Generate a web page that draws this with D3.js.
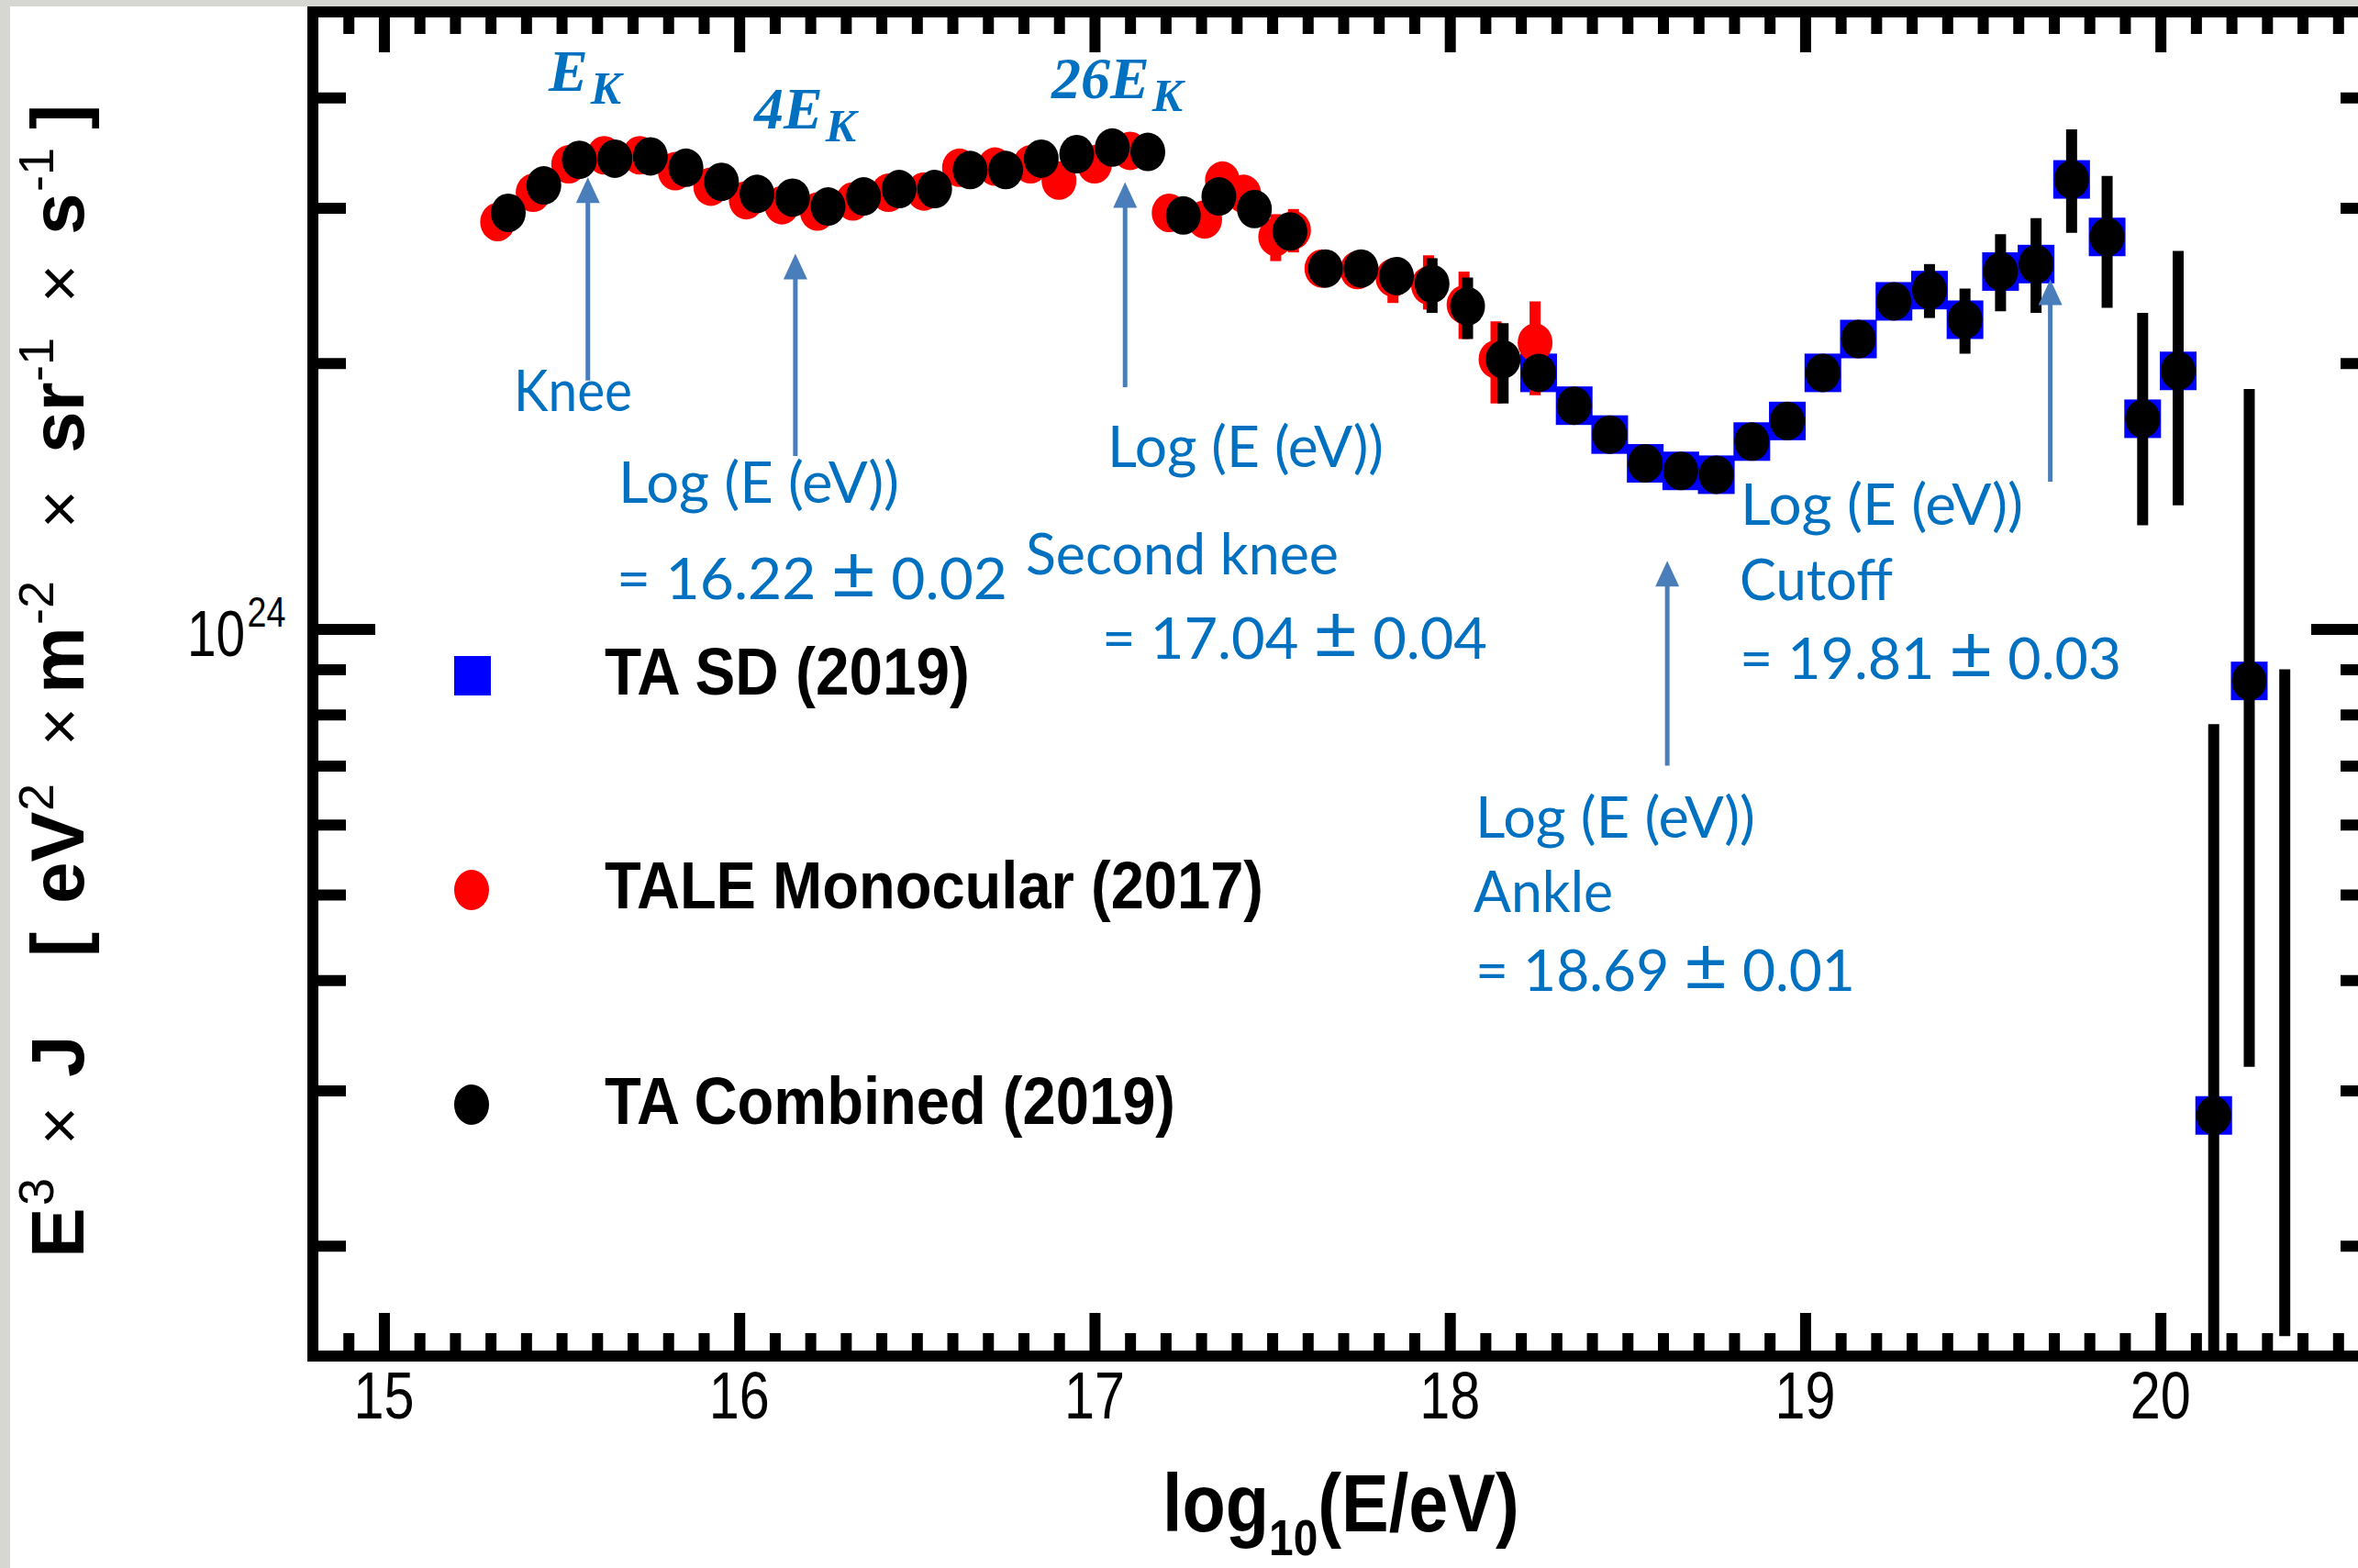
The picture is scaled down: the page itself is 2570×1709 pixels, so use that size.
<!DOCTYPE html>
<html><head><meta charset="utf-8">
<script src="https://cdn.jsdelivr.net/npm/d3@7"></script>
<style>
html,body{margin:0;padding:0;background:#fff;}
svg{display:block}
</style></head><body>
<svg id="chart" width="2570" height="1709"></svg>
<script>
// ---------------- DATA (flux E^3 J in units of 1e24 eV^2 m^-2 sr^-1 s^-1) ----------------
const comboLogE = [15.35,15.45,15.55,15.65,15.75,15.85,15.95,16.05,16.15,16.25,16.35,16.45,16.55,16.65,16.75,16.85,16.95,17.05,17.15,
  17.25,17.35,17.45,17.55,17.65,17.75,17.85,17.95,18.05,18.15,
  18.25,18.35,18.45,18.55,18.65,18.75,18.85,18.95,19.05,19.15,19.25,
  19.35,19.45,19.55,19.65,19.75,19.85,19.95,20.05,20.15,20.25,20.35];
const comboJ = [2.96,3.18,3.40,3.41,3.43,3.33,3.21,3.11,3.08,3.01,3.09,3.15,3.15,3.31,3.31,3.41,3.45,3.51,3.47,
  2.94,3.09,2.99,2.82,2.56,2.56,2.51,2.46,2.32,2.02,
  1.95,1.79,1.66,1.54,1.51,1.495,1.63,1.72,1.95,2.13,2.35,
  2.42,2.24,2.54,2.59,3.23,2.78,1.73,1.96,0.281,0.873,null];
const comboLo = [null,null,null,null,null,null,null,null,null,null,null,null,null,null,null,null,null,null,null,
  null,null,null,null,null,null,null,2.28,2.13,1.80,
  null,null,null,null,null,null,null,null,null,null,null,
  2.25,2.05,2.29,2.28,2.81,2.31,1.31,1.38,0.10,0.319,0.158];
const comboHi = [null,null,null,null,null,null,null,null,null,null,null,null,null,null,null,null,null,null,null,
  null,null,null,null,null,null,null,2.63,2.50,2.22,
  null,null,null,null,null,null,null,null,null,null,null,
  2.59,2.43,2.80,2.92,3.68,3.26,2.28,2.68,0.78,1.87,0.90];

const sdLogE = [18.25,18.35,18.45,18.55,18.65,18.75,18.85,18.95,19.05,19.15,19.25,19.35,19.45,19.55,19.65,19.75,19.85,19.95,20.05,20.15,20.25];
const sdJ = [1.95,1.79,1.66,1.54,1.51,1.495,1.63,1.72,1.95,2.13,2.35,2.42,2.24,2.54,2.59,3.23,2.78,1.73,1.96,0.281,0.873];

const taleLogE = [15.32,15.42,15.52,15.62,15.72,15.82,15.92,16.02,16.12,16.22,16.32,16.42,16.52,16.62,16.72,16.82,16.90,17.00,17.10,
  17.21,17.31,17.36,17.42,17.51,17.56,17.64,17.74,17.84,17.94,18.04,18.13,18.24];
const taleJ = [2.89,3.12,3.36,3.44,3.44,3.30,3.17,3.06,3.02,2.97,3.05,3.12,3.13,3.33,3.34,3.36,3.22,3.36,3.48,
  2.96,2.91,3.22,3.11,2.78,2.83,2.56,2.55,2.50,2.45,2.33,2.02,2.11];
const taleLo = [null,null,null,null,null,null,null,null,null,null,null,null,null,null,null,null,null,null,null,
  null,null,null,null,2.61,2.67,null,null,2.34,2.30,2.13,1.80,1.84];
const taleHi = [null,null,null,null,null,null,null,null,null,null,null,null,null,null,null,null,null,null,null,
  null,null,null,null,2.95,2.99,null,null,2.62,2.65,2.54,2.23,2.35];

const xMajorTicks = [15,16,17,18,19,20];
const xTickLabels = ["15","16","17","18","19","20"];
const xMinorTicks = [14.9,15.1,15.2,15.3,15.4,15.5,15.6,15.7,15.8,15.9,16.1,16.2,16.3,16.4,16.5,16.6,16.7,16.8,16.9,
  17.1,17.2,17.3,17.4,17.5,17.6,17.7,17.8,17.9,18.1,18.2,18.3,18.4,18.5,18.6,18.7,18.8,18.9,
  19.1,19.2,19.3,19.4,19.5,19.6,19.7,19.8,19.9,20.1,20.2,20.3,20.4,20.5];
const yMajorTicks = [1];
const yMinorTicks = [0.2,0.3,0.4,0.5,0.6,0.7,0.8,0.9,2,3,4];

const legendLabels = ["TA SD (2019)","TALE Monocular (2017)","TA Combined (2019)"];

// annotation arrows in data units (log10 E, flux)
const arrowX = [15.574,16.158,17.086,18.612,19.690];
const arrowTop = [3.247,2.661,3.208,1.194,2.488];
const arrowBottom = [1.911,1.570,1.879,0.700,1.468];

const noteTexts = ["Knee","Log (E (eV))","= 16.22 ± 0.02","Log (E (eV))","Second knee","= 17.04 ± 0.04",
  "Log (E (eV))","Ankle","= 18.69 ± 0.01","Log (E (eV))","Cutoff","= 19.81 ± 0.03"];

// ---------------- LAYOUT ----------------
const W = 2570, H = 1709;
const svg = d3.select("#chart");
svg.append("rect").attr("width",W).attr("height",H).attr("fill","#d6d6d2");
svg.append("rect").attr("x",11).attr("y",7).attr("width",W-11).attr("height",H-7).attr("fill","#fff");

const P = {left:341, right:2587, top:13, bottom:1478};
const x = d3.scaleLinear().domain([14.8,20.6]).range([P.left,P.right]);
const y = d3.scaleLog().domain([0.15,5.0]).range([P.bottom,P.top]);

svg.append("clipPath").attr("id","clip").append("rect")
  .attr("x",P.left+6).attr("y",P.top+6).attr("width",P.right-P.left-12).attr("height",P.bottom-P.top-12);

function styleAxis(g){
  g.select(".domain").remove();
  g.selectAll("text").remove();
  g.selectAll("line").attr("stroke","#000").attr("stroke-width",12);
}
svg.append("g").attr("transform",`translate(0,${P.bottom})`).call(d3.axisBottom(x).tickValues(xMinorTicks).tickSize(-25)).call(styleAxis);
svg.append("g").attr("transform",`translate(0,${P.bottom})`).call(d3.axisBottom(x).tickValues(xMajorTicks).tickSize(-47)).call(styleAxis);
svg.append("g").attr("transform",`translate(0,${P.top})`).call(d3.axisTop(x).tickValues(xMinorTicks).tickSize(-24)).call(styleAxis);
svg.append("g").attr("transform",`translate(0,${P.top})`).call(d3.axisTop(x).tickValues(xMajorTicks).tickSize(-44)).call(styleAxis);
svg.append("g").attr("transform",`translate(${P.left},0)`).call(d3.axisLeft(y).tickValues(yMinorTicks).tickSize(-36)).call(styleAxis);
svg.append("g").attr("transform",`translate(${P.left},0)`).call(d3.axisLeft(y).tickValues(yMajorTicks).tickSize(-68)).call(styleAxis);
svg.append("g").attr("transform",`translate(${P.right},0)`).call(d3.axisRight(y).tickValues(yMinorTicks).tickSize(-36)).call(styleAxis);
svg.append("g").attr("transform",`translate(${P.right},0)`).call(d3.axisRight(y).tickValues(yMajorTicks).tickSize(-68)).call(styleAxis);

svg.append("rect").attr("x",P.left).attr("y",P.top).attr("width",P.right-P.left).attr("height",P.bottom-P.top)
  .attr("fill","none").attr("stroke","#000").attr("stroke-width",12);

// tick labels
svg.append("g").selectAll("text").data(xMajorTicks).join("text")
  .attr("x",d=>x(d)).attr("y",1546).attr("text-anchor","middle")
  .attr("font-family","Liberation Sans, Arial, sans-serif").attr("font-size",72)
  .attr("textLength",66).attr("lengthAdjust","spacingAndGlyphs")
  .text((d,i)=>xTickLabels[i]);

const yl = svg.append("g").selectAll("g").data(yMajorTicks).join("g")
  .attr("transform",d=>`translate(204,${y(d)+30}) scale(0.8,1)`);
const ylt = yl.append("text").attr("x",0).attr("y",0).attr("font-family","Liberation Sans, Arial, sans-serif").attr("font-size",71);
ylt.append("tspan").text("10");
ylt.append("tspan").attr("dx",3).attr("dy",-32).attr("font-size",47).text("24");

// x axis title
const xt = svg.append("g").attr("transform","translate(1267,0) scale(0.87,1)")
  .append("text").attr("x",0).attr("y",1669)
  .attr("font-family","Liberation Sans, Arial, sans-serif").attr("font-weight","bold").attr("font-size",89).attr("fill","#000");
xt.append("tspan").text("log");
xt.append("tspan").attr("dy",26).attr("font-size",55).text("10");
xt.append("tspan").attr("dy",-26).text("(E/eV)");

// y axis title (rotated)
const yt = svg.append("g").attr("transform","translate(91,0) rotate(-90)")
  .attr("font-family","Liberation Sans, Arial, sans-serif").attr("fill","#000");
const yParts = [
  {t:"E", s:1371, w:"bold", f:82, o:0},
  {t:"3", s:1314, w:"normal", f:54, o:-33},
  {t:"×", s:1248, w:"normal", f:72, o:-2},
  {t:"J", s:1174, w:"bold", f:82, o:0},
  {t:"[", s:1043, w:"bold", f:82, o:0},
  {t:"eV", s:985, w:"bold", f:82, o:0},
  {t:"2", s:884, w:"normal", f:54, o:-33},
  {t:"×", s:813, w:"normal", f:72, o:-2},
  {t:"m", s:756, w:"bold", f:82, o:0},
  {t:"-2", s:681, w:"normal", f:54, o:-33},
  {t:"×", s:576, w:"normal", f:72, o:-2},
  {t:"sr", s:494, w:"bold", f:82, o:0},
  {t:"-1", s:416, w:"normal", f:54, o:-33},
  {t:"×", s:330, w:"normal", f:72, o:-2},
  {t:"s", s:256, w:"bold", f:82, o:0},
  {t:"-1", s:209, w:"normal", f:54, o:-33},
  {t:"]", s:141, w:"bold", f:82, o:0}
];
yt.selectAll("text").data(yParts).join("text")
  .attr("x",d=>-d.s).attr("y",d=>d.o).attr("font-weight",d=>d.w).attr("font-size",d=>d.f).text(d=>d.t);

// ---------------- MARKS ----------------
const plotG = svg.append("g").attr("clip-path","url(#clip)");
const RX = 19, RY = 21;

plotG.append("g").selectAll("rect").data(sdLogE).join("rect")
  .attr("x",(d,i)=>x(d)-20).attr("y",(d,i)=>y(sdJ[i])-21).attr("width",40).attr("height",42).attr("fill","#0000ff");

function bars(g, xs, lo, hi, color){
  const idx = d3.range(xs.length).filter(i=>lo[i]!=null);
  g.append("g").selectAll("line").data(idx).join("line")
    .attr("x1",i=>x(xs[i])).attr("x2",i=>x(xs[i]))
    .attr("y1",i=>y(lo[i])).attr("y2",i=>y(hi[i]))
    .attr("stroke",color).attr("stroke-width",12);
}
function dots(g, xs, vals, color){
  const idx = d3.range(xs.length).filter(i=>vals[i]!=null);
  g.append("g").selectAll("ellipse").data(idx).join("ellipse")
    .attr("cx",i=>x(xs[i])).attr("cy",i=>y(vals[i])).attr("rx",RX).attr("ry",RY).attr("fill",color);
}
bars(plotG, taleLogE, taleLo, taleHi, "#ff0000");
dots(plotG, taleLogE, taleJ, "#ff0000");
bars(plotG, comboLogE, comboLo, comboHi, "#000000");
dots(plotG, comboLogE, comboJ, "#000000");

// ---------------- LEGEND ----------------
const lg = svg.append("g");
lg.append("rect").attr("x",495).attr("y",715).attr("width",40).attr("height",43).attr("fill","#0000ff");
lg.append("ellipse").attr("cx",514).attr("cy",970).attr("rx",RX).attr("ry",RY+1).attr("fill","#ff0000");
lg.append("ellipse").attr("cx",514).attr("cy",1204).attr("rx",RX).attr("ry",RY+1).attr("fill","#000000");
const legY = [757,990,1225], legW = [398,718,622];
lg.selectAll("text").data(legendLabels).join("text")
  .attr("x",659).attr("y",(d,i)=>legY[i]).attr("font-family","Liberation Sans, Arial, sans-serif")
  .attr("font-weight","bold").attr("font-size",72).attr("textLength",(d,i)=>legW[i]).attr("lengthAdjust","spacingAndGlyphs")
  .text(d=>d);

// ---------------- ANNOTATIONS ----------------
const AC = "#4a7ebb", TC = "#0070c0";
const ag = svg.append("g");
arrowX.forEach((v,i)=>{
  const xa = x(v), yt0 = y(arrowTop[i]), yb = y(arrowBottom[i]);
  ag.append("line").attr("x1",xa).attr("x2",xa).attr("y1",yb).attr("y2",yt0+20).attr("stroke",AC).attr("stroke-width",5);
  ag.append("path").attr("d",`M${xa},${yt0} L${xa-13},${yt0+28} L${xa+13},${yt0+28} Z`).attr("fill",AC);
});
const notePos = [[560,448,129],[674,548,306],[672,653,426],[1207,509,301],[1118,626,341],[1201,718,420],
  [1608,913,305],[1606,994,152],[1608,1080,414],[1897,572,308],[1896,654,167],[1896,740,416]];
const notes = ag.selectAll("text.note").data(noteTexts).join("text").attr("class","note")
  .attr("x",(d,i)=>notePos[i][0]).attr("y",(d,i)=>notePos[i][1])
  .attr("textLength",(d,i)=>notePos[i][2]).attr("lengthAdjust","spacingAndGlyphs")
  .attr("font-family","Lato, 'Open Sans', sans-serif").attr("font-size",62).attr("fill",TC);
notes.each(function(d){
  const t = d3.select(this);
  const parts = d.split("±");
  parts.forEach((p,k)=>{
    t.append("tspan").text(p);
    if(k<parts.length-1) t.append("tspan").attr("font-size",82).text("±");
  });
});

// math labels
const mathLabels = [{m:"E",x:598,y:99},{m:"4E",x:822,y:140},{m:"26E",x:1146,y:107}];
mathLabels.forEach(d=>{
  const t = ag.append("text").attr("x",d.x).attr("y",d.y).attr("font-family","Liberation Serif, 'DejaVu Serif', serif")
    .attr("font-style","italic").attr("font-weight","bold").attr("font-size",64).attr("fill",TC);
  t.append("tspan").text(d.m);
  t.append("tspan").attr("dy",14).attr("dx",3).attr("font-size",50).text("K");
});
</script>
</body></html>
